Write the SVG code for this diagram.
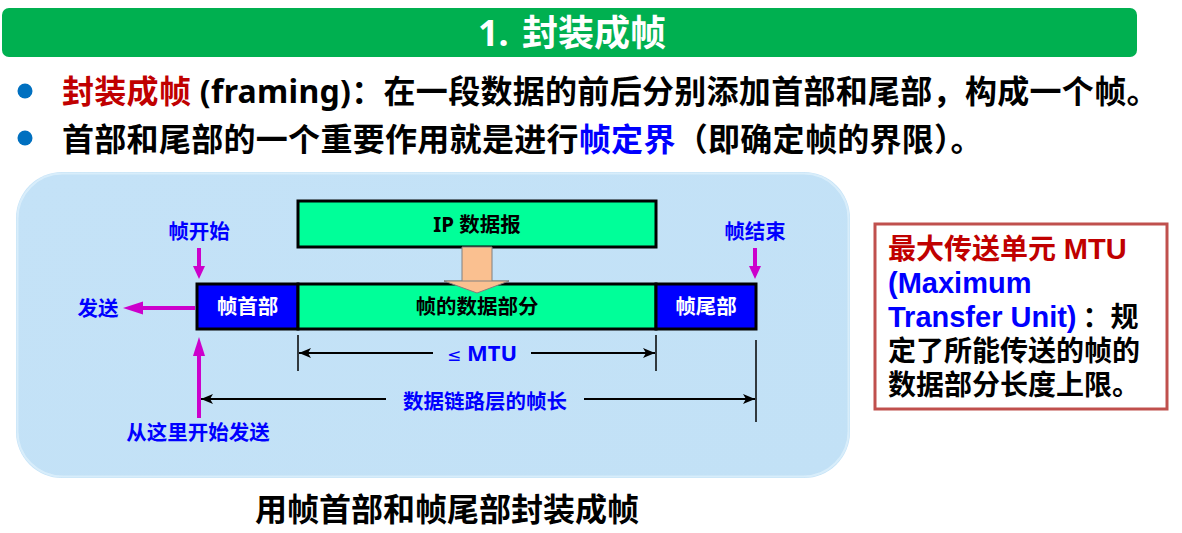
<svg xmlns="http://www.w3.org/2000/svg" width="1182" height="533" viewBox="0 0 1182 533">
  <style>
    text { font-family: "Noto Sans", "Noto Sans CJK SC", sans-serif; font-weight: bold; }
    .title { font-size: 36px; fill: #ffffff; }
    .bullet { font-size: 32px; fill: #000000; letter-spacing: 0.3px; }
    .lbl { font-size: 20.5px; fill: #0000ff; }
    .box { stroke: #000000; stroke-width: 3; }
    .head { fill: #0000ff; }
    .data { fill: #00ff99; }
    .wt { font-size: 20.5px; fill: #ffffff; }
    .bk { font-size: 20.5px; fill: #000000; }
    .dim { stroke: #000000; stroke-width: 2; fill: none; }
    .tick { stroke: #000000; stroke-width: 1.5; }
    .mag { fill: #cc00cc; }
    .magline { stroke: #cc00cc; stroke-width: 4; }
    .note { font-family: "Liberation Sans", "Noto Sans CJK SC", sans-serif; font-size: 28px; }
    .lat { font-size: 29px; }
  </style>
  <defs>
    <marker id="ah" markerUnits="userSpaceOnUse" markerWidth="12" markerHeight="10" viewBox="0 0 12 10" refX="12" refY="5" orient="auto-start-reverse">
      <path d="M0,0 L12,5 L0,10 L3,5 z" fill="#000000"/>
    </marker>
    <linearGradient id="panelGrad" x1="0" y1="0" x2="1" y2="1">
      <stop offset="0" stop-color="#c4e2f7"/>
      <stop offset="1" stop-color="#c2e1f6"/>
    </linearGradient>
  </defs>

  <!-- title bar -->
  <g id="title">
    <rect x="2" y="8" width="1135" height="49" rx="7" fill="#00b050"/>
    <text class="title" x="478" y="46">1.<tspan x="522">封装成帧</tspan></text>
  </g>

  <!-- bullet points -->
  <g id="bullets">
    <circle cx="25" cy="91" r="7.5" fill="#0070c0"/>
    <text class="bullet" x="62" y="103"><tspan fill="#c00000">封装成帧</tspan> (framing)：在一段数据的前后分别添加首部和尾部，构成一个帧。</text>
    <circle cx="25" cy="138" r="7.5" fill="#0070c0"/>
    <text class="bullet" x="62" y="151">首部和尾部的一个重要作用就是进行<tspan fill="#0000ff">帧定界</tspan>（即确定帧的界限）。</text>
  </g>

  <!-- light blue panel -->
  <g id="panel">
    <rect x="16" y="172" width="834" height="306" rx="46" fill="url(#panelGrad)"/>
    <rect x="17.5" y="173.5" width="831" height="303" rx="45" fill="none" stroke="#e6f5fd" stroke-width="2" opacity="0.6"/>
  </g>

  <!-- IP datagram -->
  <g id="ip-datagram">
    <rect class="box data" x="298" y="201" width="358" height="46"/>
    <text class="bk" x="477" y="232" text-anchor="middle">IP 数据报</text>
  </g>

  <!-- encapsulation arrow -->
  <g id="encap-arrow">
    <polygon points="462,247 492,247 492,281 509,281 477,293 444,281 462,281" fill="#fac090" stroke="#808080" stroke-width="1"/>
  </g>

  <!-- frame -->
  <g id="frame-header">
    <rect class="box head" x="197" y="284" width="101" height="45"/>
    <text class="wt" x="247.5" y="314" text-anchor="middle">帧首部</text>
  </g>
  <g id="frame-data">
    <rect class="box data" x="298" y="284" width="358" height="45"/>
    <text class="bk" x="477" y="314" text-anchor="middle">帧的数据部分</text>
  </g>
  <g id="frame-trailer">
    <rect class="box head" x="656" y="284" width="100" height="45"/>
    <text class="wt" x="706" y="314" text-anchor="middle">帧尾部</text>
  </g>
  <!-- arrow tip drawn over the frame border -->
  <polygon points="444,281 509,281 477,293" fill="#fac090" stroke="#808080" stroke-width="1"/>

  <!-- labels -->
  <g id="label-start">
    <text class="lbl" x="199" y="239" text-anchor="middle">帧开始</text>
  </g>
  <g id="label-end">
    <text class="lbl" x="755" y="239" text-anchor="middle">帧结束</text>
  </g>
  <g id="label-send">
    <text class="lbl" x="98" y="316" text-anchor="middle">发送</text>
  </g>
  <g id="label-send-from">
    <text class="lbl" x="198" y="440" text-anchor="middle" font-size="21">从这里开始发送</text>
  </g>

  <!-- connectors -->
  <g id="connectors">
    <!-- frame start -->
    <line class="magline" x1="199" y1="248" x2="199" y2="268"/>
    <polygon class="mag" points="193,266 205,266 199,279"/>
    <!-- frame end -->
    <line class="magline" x1="755" y1="248" x2="755" y2="268"/>
    <polygon class="mag" points="749,266 761,266 755,279"/>
    <!-- sending direction -->
    <line class="magline" x1="195" y1="308" x2="140" y2="308"/>
    <polygon class="mag" points="143,301.5 143,314.5 123,308"/>
    <!-- start of transmission -->
    <line class="magline" x1="199" y1="418" x2="199" y2="352"/>
    <polygon class="mag" points="193,356 205,356 199,337"/>

    <!-- MTU dimension -->
    <line class="tick" x1="298" y1="335" x2="298" y2="371"/>
    <line class="tick" x1="656" y1="335" x2="656" y2="371"/>
    <line class="dim" x1="433" y1="353" x2="299" y2="353" marker-end="url(#ah)"/>
    <line class="dim" x1="531" y1="353" x2="655" y2="353" marker-end="url(#ah)"/>
    <text x="482" y="361" text-anchor="middle" fill="#0000ff" font-size="22"><tspan font-family="DejaVu Sans" font-weight="normal" font-size="17">≤</tspan> MTU</text>

    <!-- frame length dimension -->
    <line class="tick" x1="756" y1="340" x2="756" y2="422"/>
    <line class="dim" x1="386" y1="399" x2="201" y2="399" marker-end="url(#ah)"/>
    <line class="dim" x1="584" y1="399" x2="755" y2="399" marker-end="url(#ah)"/>
    <text class="lbl" x="485" y="409" text-anchor="middle" font-size="21">数据链路层的帧长</text>
  </g>

  <!-- MTU note -->
  <g id="mtu-note">
    <rect x="875" y="224" width="292" height="185" fill="#ffffff" stroke="#c0504d" stroke-width="3"/>
    <text class="note" x="888" y="259" fill="#c00000">最大传送单元 <tspan class="lat">MTU</tspan></text>
    <text class="note lat" x="888" y="293" fill="#0000ff">(Maximum</text>
    <text class="note" x="888" y="327"><tspan class="lat" fill="#0000ff">Transfer Unit)</tspan><tspan fill="#000000" dx="6">：规</tspan></text>
    <text class="note" x="888" y="361" fill="#000000">定了所能传送的帧的</text>
    <text class="note" x="888" y="395" fill="#000000">数据部分长度上限。</text>
  </g>

  <!-- caption -->
  <g id="caption">
    <text x="447" y="521" text-anchor="middle" font-size="32" fill="#000000">用帧首部和帧尾部封装成帧</text>
  </g>
</svg>
